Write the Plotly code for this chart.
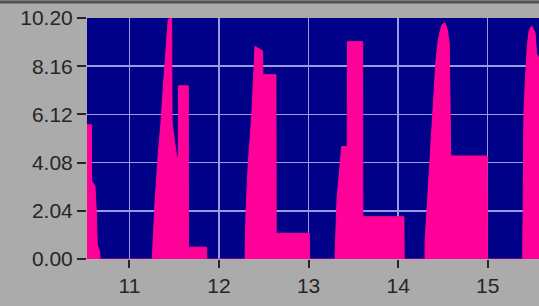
import plotly.graph_objects as go

# time values and signal amplitude
t = [10.526, 10.575, 10.577, 10.615, 10.630, 10.640, 10.668, 10.672,
     11.255, 11.285, 11.322, 11.352, 11.378, 11.404, 11.433, 11.471, 11.476, 11.527, 11.545, 11.547, 11.657, 11.659, 11.862, 11.864,
     12.290, 12.301, 12.327, 12.365, 12.402, 12.488, 12.490, 12.636, 12.638, 13.008, 13.010,
     13.295, 13.317, 13.370, 13.432, 13.434, 13.604, 13.606, 14.065, 14.067,
     14.300, 14.302, 14.356, 14.386, 14.400, 14.423, 14.448, 14.486, 14.523, 14.549, 14.571, 14.587, 14.995, 14.997,
     15.391, 15.405, 15.427, 15.442, 15.464, 15.491, 15.528, 15.547, 15.573]
amp = [5.68, 5.68, 3.30, 3.10, 2.00, 0.60, 0.30, 0.0,
       0.0, 2.37, 4.49, 5.76, 7.30, 8.70, 10.15, 10.20, 5.76, 4.33, 4.33, 7.33, 7.33, 0.50, 0.50, 0.0,
       0.0, 1.95, 4.07, 6.03, 9.00, 8.80, 7.80, 7.80, 1.09, 1.09, 0.0,
       0.0, 2.50, 4.76, 4.76, 9.20, 9.20, 1.79, 1.79, 0.0,
       0.0, 0.80, 4.20, 5.90, 7.00, 8.43, 9.28, 9.90, 10.00, 9.70, 9.15, 4.36, 4.36, 0.0,
       0.0, 6.30, 8.00, 9.00, 9.70, 9.85, 9.60, 8.70, 8.50]

y_ticks = [0.00, 2.04, 4.08, 6.12, 8.16, 10.20]
x_ticks = [11, 12, 13, 14, 15]

PINK = "#ff0099"
NAVY = "#000088"
GRID = "#9a9ae0"
GRAY = "#ababab"
INK = "#262626"

fig = go.Figure()
fig.add_trace(go.Scatter(x=t, y=amp, mode="lines", fill="tozeroy",
                         line=dict(color=PINK, width=1), fillcolor=PINK,
                         hoverinfo="skip"))

fig.update_layout(
    width=539, height=306,
    margin=dict(l=87, r=0, t=18, b=47, autoexpand=False),
    paper_bgcolor=GRAY, plot_bgcolor=NAVY,
    showlegend=False,
    font=dict(family="Liberation Sans, Arial, sans-serif", size=21, color=INK),
    xaxis=dict(range=[10.526, 15.573], tickvals=x_ticks, ticktext=[str(v) for v in x_ticks],
               showgrid=True, gridcolor=GRID, gridwidth=1.5, zeroline=False,
               ticks="outside", ticklen=8, tickcolor=INK, tickwidth=2,
               showline=False),
    yaxis=dict(range=[0, 10.2], tickvals=y_ticks, ticktext=[f"{v:.2f}" for v in y_ticks],
               showgrid=True, gridcolor=GRID, gridwidth=1.5, zeroline=False,
               ticks="outside", ticklen=9, tickcolor=INK, tickwidth=2,
               showline=False),
    shapes=[dict(type="line", xref="paper", yref="paper", x0=-0.3, x1=1.1, y0=1.066, y1=1.066,
                 line=dict(color="#505050", width=3))],
)

fig.write_html("out.html", config={"displayModeBar": False, "staticPlot": True},
               post_script="document.body.style.margin='0';document.body.style.overflow='hidden';")
